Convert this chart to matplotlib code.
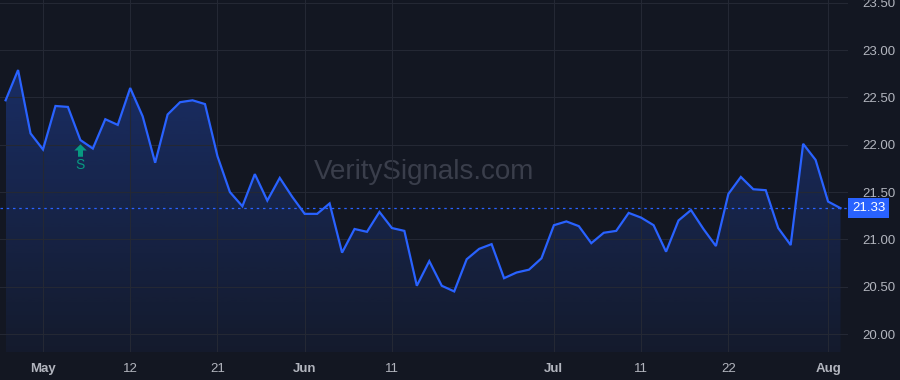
import matplotlib
matplotlib.use("Agg")
import matplotlib.pyplot as plt
import matplotlib.transforms as mtransforms
from matplotlib.patches import Polygon
import numpy as np
import pandas as pd

plt.rcParams['font.family'] = ['Liberation Sans', 'DejaVu Sans']

holidays = ['2025-05-26', '2025-06-19', '2025-07-04']
dates = pd.bdate_range('2025-04-28', '2025-08-04')
dates = dates[~dates.isin(pd.to_datetime(holidays))]

prices = [22.47, 22.79, 22.12, 21.95, 22.41, 22.40, 22.05, 21.96, 22.27, 22.21,
          22.60, 22.30, 21.81, 22.32, 22.45, 22.47, 22.43, 21.88, 21.50, 21.35,
          21.69, 21.41, 21.65, 21.45, 21.27, 21.27, 21.38, 20.86, 21.11, 21.08,
          21.29, 21.12, 21.09, 20.51, 20.77, 20.51, 20.45, 20.79, 20.90, 20.95,
          20.59, 20.65, 20.68, 20.80, 21.15, 21.19, 21.14, 20.96, 21.07, 21.09,
          21.28, 21.23, 21.15, 20.87, 21.20, 21.31, 21.11, 20.93, 21.48, 21.66,
          21.53, 21.52, 21.12, 20.94, 22.01, 21.84, 21.40, 21.33]

tick_dates = ['2025-05-01', '2025-05-12', '2025-05-21', '2025-06-02', '2025-06-11',
              '2025-07-01', '2025-07-11', '2025-07-22', '2025-08-01']
tick_labels = ['May', '12', '21', 'Jun', '11', 'Jul', '11', '22', 'Aug']
month_labels = ['May', 'Jun', 'Jul', 'Aug']

signal_date = '2025-05-06'
signal_text = 'S'
last_price = prices[-1]

bg = '#131722'
grid = '#242834'
blue = '#2962ff'
label_col = '#b2b5be'

x = np.arange(len(prices))
y = np.array(prices)

fig = plt.figure(figsize=(9, 3.8), dpi=100, facecolor=bg)
ax = fig.add_axes([0, 28 / 380, 848 / 900, 352 / 380])
ax.set_facecolor(bg)

ymin, ymax = 19.81, 23.53
ax.set_xlim(-0.45, 67.6)
ax.set_ylim(ymin, ymax)

# gradient fill under the line
grad = np.linspace(0, 1, 256)
rgba = np.zeros((256, 1, 4))
rgba[:, 0, 0] = 41 / 255
rgba[:, 0, 1] = 98 / 255
rgba[:, 0, 2] = 1.0
rgba[:, 0, 3] = 0.05 + 0.25 * grad
im = ax.imshow(rgba, aspect='auto', origin='lower',
               extent=[x[0], x[-1], ymin, y.max()], zorder=1)
poly = Polygon(np.column_stack([np.r_[x[0], x, x[-1]], np.r_[ymin, y, ymin]]),
               closed=True, facecolor='none', edgecolor='none')
ax.add_patch(poly)
im.set_clip_path(poly)

ax.plot(x, y, color=blue, lw=1.6, zorder=3, solid_joinstyle='miter')

# last price line
ax.axhline(last_price, color=blue, lw=0.9, ls=(0, (2, 3)), zorder=2)

# grid
pos = [dates.get_loc(pd.Timestamp(d)) for d in tick_dates]
ax.set_xticks(pos)
ax.set_xticklabels(tick_labels)
ax.set_yticks(np.arange(20.0, 23.51, 0.5))
ax.grid(True, color=grid, lw=0.8, zorder=0)
ax.yaxis.tick_right()
ax.yaxis.set_major_formatter(matplotlib.ticker.FormatStrFormatter('%.2f'))
ax.tick_params(axis='both', length=0, colors=label_col, labelsize=9.5)
ax.tick_params(axis='y', pad=10)
ax.tick_params(axis='x', pad=8)
for t in ax.get_xticklabels():
    if t.get_text() in month_labels:
        t.set_fontweight('bold')
for s in ax.spines.values():
    s.set_visible(False)

# last price tag
ax.annotate(f'{last_price:.2f}', xy=(1.0, last_price), xycoords=('axes fraction', 'data'),
            xytext=(4, 0), textcoords='offset pixels', ha='left', va='center',
            color='white', fontsize=9.5,
            bbox=dict(boxstyle='square,pad=0.3', fc=blue, ec='none'),
            annotation_clip=False)

# watermark
ax.text(0.5, 0.51, 'VeritySignals.com', transform=ax.transAxes, ha='center', va='center',
        fontsize=20, color='#3a3e4b', zorder=0.5)

# signal marker
si = dates.get_loc(pd.Timestamp(signal_date))
arrow = [(0, 1), (1, 0), (0.4, 0), (0.4, -1), (-0.4, -1), (-0.4, 0), (-1, 0), (0, 1)]
tr = mtransforms.offset_copy(ax.transData, fig=fig, x=0, y=-10, units='dots')
ax.plot([x[si]], [y[si]], marker=arrow, ms=9, color='#089981', mec='none',
        transform=tr, zorder=4)
tr2 = mtransforms.offset_copy(ax.transData, fig=fig, x=0, y=-25, units='dots')
ax.text(x[si], y[si], signal_text, transform=tr2, ha='center', va='center',
        color='#089981', fontsize=10, zorder=4)

fig.savefig('out.png', dpi=100, facecolor=bg)
